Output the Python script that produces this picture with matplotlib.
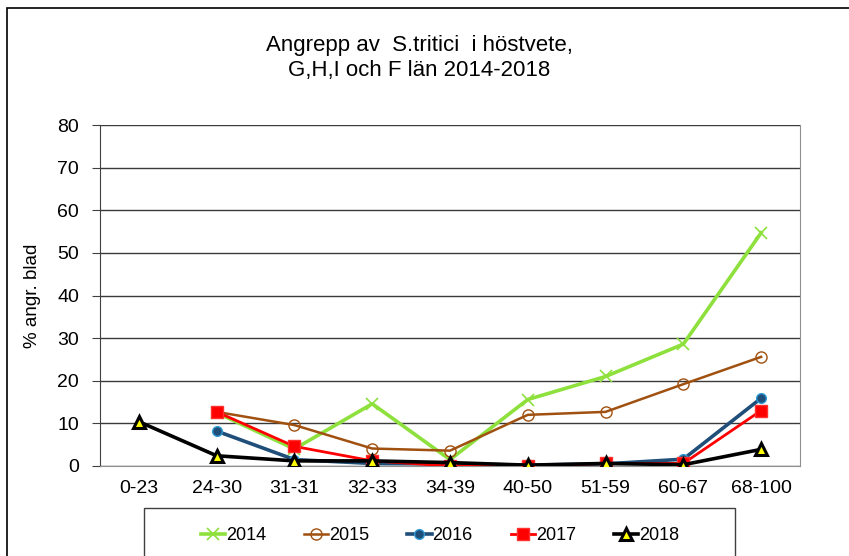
import numpy as np
import matplotlib.pyplot as plt
from matplotlib.patches import Rectangle

plt.rcParams["font.family"] = ["Liberation Sans", "DejaVu Sans"]

# Tillväxtstadier (DC) och andel angripna blad per år
stages = ["0-23", "24-30", "31-31", "32-33", "34-39", "40-50", "51-59", "60-67", "68-100"]
nan = np.nan
y2014 = [nan, 12.5, 4.0, 14.6, 1.5, 15.6, 21.0, 28.6, 54.7]
y2015 = [nan, 12.7, 9.6, 4.1, 3.6, 12.0, 12.7, 19.2, 25.6]
y2016 = [nan, 8.2, 1.5, 0.6, 0.5, 0.2, 0.5, 1.6, 15.9]
y2017 = [nan, 12.7, 4.6, 1.2, 0.0, 0.0, 0.6, 0.6, 13.0]
y2018 = [10.4, 2.4, 1.2, 1.2, 0.8, 0.2, 0.6, 0.3, 3.9]

fig = plt.figure(figsize=(8.49, 5.56), dpi=100)
ax = fig.add_axes([100 / 849, 1 - 466 / 556, 700 / 849, 341 / 556])

x = np.arange(len(stages))
ax.plot(x, y2014, color="#8EE03C", lw=2.6, marker="x", ms=9, mew=1.2, label="2014", zorder=3)
ax.plot(x, y2015, color="#A0500F", lw=1.8, marker="o", ms=8, mfc="none", mec="#A0500F", mew=1.0, label="2015", zorder=4)
ax.plot(x, y2016, color="#1F4E79", lw=2.6, marker="o", ms=7, mfc="#1F4E79", mec="#2E9BD6", mew=1.0, label="2016", zorder=5)
ax.plot(x, y2017, color="#FF0000", lw=2.0, marker="s", ms=8, mfc="#FF0000", mec="#FF3030", label="2017", zorder=6)
ax.plot(x, y2018, color="black", lw=2.6, marker="^", ms=8.5, mfc="#FFFF00", mec="black", mew=2.2, label="2018", zorder=7)

ax.set_xlim(-0.5, len(stages) - 0.5)
ax.set_ylim(0, 80)
ax.set_yticks(range(0, 81, 10))
ax.set_xticks(x)
ax.set_xticklabels(stages)
ax.tick_params(axis="x", length=0, pad=10, labelsize=14)
ax.tick_params(axis="y", length=6, direction="out", color="#404040", labelsize=14, pad=9)
ax.grid(axis="y", color="#3a3a3a", lw=1.0)
ax.set_axisbelow(True)
ax.spines["top"].set_visible(False)
ax.spines["left"].set_color("#404040")
ax.spines["right"].set_color("#909090")
ax.spines["bottom"].set_color("#909090")
ax.set_ylabel("% angr. blad", fontsize=13.5, labelpad=12)

fig.text(419 / 849, 1 - 58 / 556, "Angrepp av  S.tritici  i höstvete,\nG,H,I och F län 2014-2018",
         ha="center", va="center", fontsize=16, linespacing=1.3)

# legend entries without frame, box drawn separately
leg = fig.legend(loc="center", bbox_to_anchor=(440 / 849, 1 - 536 / 556), ncol=5, fontsize=13,
                 frameon=False, handlelength=1.35, handletextpad=0.05, columnspacing=2.1,
                 borderaxespad=0)
fig.patches.append(Rectangle((144 / 849, -0.1), 591 / 849, 1 - 508 / 556 + 0.1, transform=fig.transFigure,
                             fill=False, edgecolor="#404040", lw=1.0))

fig.patches.append(Rectangle((7 / 849, -0.1), 2, 1 - 8 / 556 + 0.1, transform=fig.transFigure,
                             fill=False, edgecolor="black", lw=1.2))

plt.savefig("out.png", dpi=100)
